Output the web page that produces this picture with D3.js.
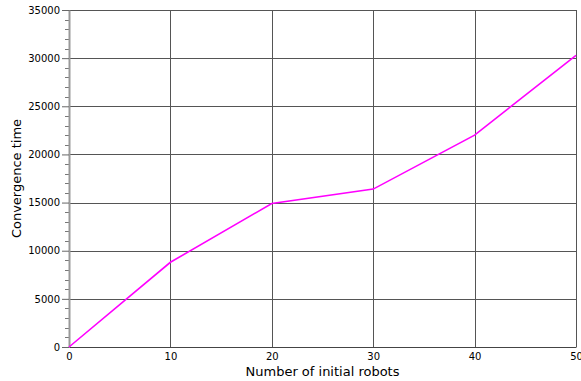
<!DOCTYPE html>
<html>
<head>
<meta charset="utf-8">
<script src="https://cdn.jsdelivr.net/npm/d3@7"></script>
<style>
  body { margin: 0; background: #fff; }
  svg { display: block; font-family: "DejaVu Sans", sans-serif; }
  .grid line { stroke: #555; stroke-width: 1; }
  .tick text { fill: #000; }
</style>
</head>
<body>
<svg id="chart" width="581" height="381"></svg>
<script>
// data
const robots = [0, 10, 20, 30, 40, 50];
const convergence = [0, 8800, 14900, 16400, 22000, 30300];
const xTicks = [0, 10, 20, 30, 40, 50];
const yTicks = [0, 5000, 10000, 15000, 20000, 25000, 30000, 35000];

const svg = d3.select('#chart');
const margin = { top: 10, right: 5, bottom: 34, left: 69 };
const width = 581 - margin.left - margin.right;
const height = 381 - margin.top - margin.bottom;

const plot = svg.append('g')
  .attr('transform', `translate(${margin.left},${margin.top})`);

const x = d3.scaleLinear().domain([0, 50]).range([0, width]);
const y = d3.scaleLinear().domain([0, 35000]).range([height, 0]);

// grid
const grid = plot.append('g').attr('class', 'grid');
grid.selectAll('line.h')
  .data(yTicks.slice(1))
  .enter().append('line')
  .attr('class', 'h')
  .attr('x1', 0).attr('x2', width)
  .attr('y1', d => Math.round(y(d)) + 0.5).attr('y2', d => Math.round(y(d)) + 0.5);
grid.selectAll('line.v')
  .data(xTicks.slice(1))
  .enter().append('line')
  .attr('class', 'v')
  .attr('y1', 0).attr('y2', height)
  .attr('x1', d => Math.round(x(d)) + 0.5).attr('x2', d => Math.round(x(d)) + 0.5);

// minor y ticks every 1000
const minor = d3.range(0, 35001, 1000).filter(v => v % 5000 !== 0);
plot.append('g').selectAll('line')
  .data(minor)
  .enter().append('line')
  .attr('x1', -4).attr('x2', 0)
  .attr('y1', d => Math.round(y(d)) + 0.5).attr('y2', d => Math.round(y(d)) + 0.5)
  .attr('stroke', '#777');

// y axis
const yAxis = plot.append('g')
  .call(d3.axisLeft(y).tickValues(yTicks).tickFormat(d3.format('d'))
    .tickSize(7).tickPadding(2).tickSizeOuter(0));
yAxis.select('.domain').attr('stroke', '#999').attr('stroke-width', 2);
yAxis.selectAll('.tick line').attr('stroke', '#666');
yAxis.selectAll('.tick text').attr('font-size', 10).attr('font-family', 'DejaVu Sans');

// x axis
const xAxis = plot.append('g')
  .attr('transform', `translate(0,${height})`)
  .call(d3.axisBottom(x).tickValues(xTicks).tickFormat(d3.format('d'))
    .tickSize(0).tickPadding(6).tickSizeOuter(0));
xAxis.select('.domain').attr('stroke', '#444');
xAxis.selectAll('.tick text').attr('font-size', 10).attr('font-family', 'DejaVu Sans');

// series line
const line = d3.line()
  .x((d, i) => x(robots[i]))
  .y(d => y(d));
plot.append('path')
  .datum(convergence)
  .attr('d', line)
  .attr('fill', 'none')
  .attr('stroke', '#ff00ff')
  .attr('stroke-width', 1.6);

// axis titles
svg.append('text')
  .attr('x', margin.left + width / 2)
  .attr('y', 376)
  .attr('text-anchor', 'middle')
  .attr('font-size', 13)
  .text('Number of initial robots');

svg.append('text')
  .attr('transform', `translate(21,${margin.top + height / 2}) rotate(-90)`)
  .attr('text-anchor', 'middle')
  .attr('font-size', 13)
  .text('Convergence time');
</script>
</body>
</html>
